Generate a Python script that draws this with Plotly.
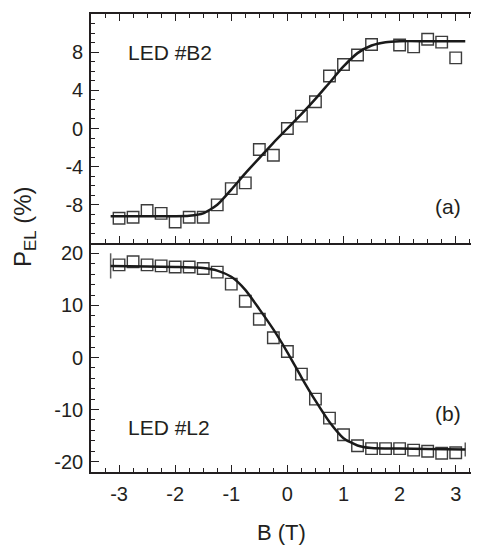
import plotly.graph_objects as go

# ---- data ----
top_B = [-3, -2.75, -2.5, -2.25, -2, -1.75, -1.5, -1.25, -1, -0.75, -0.5, -0.25,
         0, 0.25, 0.5, 0.75, 1, 1.25, 1.5, 2, 2.25, 2.5, 2.75, 3]
top_P = [-9.4, -9.3, -8.6, -8.9, -9.8, -9.3, -9.3, -8.0, -6.3, -5.7, -2.2, -2.8,
         0.0, 1.3, 2.8, 5.5, 6.7, 7.7, 8.8, 8.75, 8.55, 9.35, 9.05, 7.4]
top_fit_B = [-3.15, -2.5, -2.0, -1.75, -1.5, -1.25, -1.0, -0.75, -0.5, -0.25, 0,
             0.25, 0.5, 0.75, 1.0, 1.25, 1.5, 1.75, 2.0, 2.5, 3.17]
top_fit_P = [-9.2, -9.2, -9.2, -9.15, -8.9, -8.0, -6.4, -4.7, -3.1, -1.5, 0,
             1.5, 3.1, 4.8, 6.5, 7.9, 8.7, 9.05, 9.15, 9.15, 9.15]

bot_B = [-3, -2.75, -2.5, -2.25, -2, -1.75, -1.5, -1.25, -1, -0.75, -0.5, -0.25,
         0, 0.25, 0.5, 0.75, 1, 1.25, 1.5, 1.75, 2, 2.25, 2.5, 2.75, 3]
bot_P = [17.8, 18.4, 17.8, 17.6, 17.4, 17.4, 17.1, 16.4, 14.1, 10.8, 7.35, 3.8,
         1.15, -3.2, -8.0, -11.65, -14.85, -16.95, -17.5, -17.5, -17.5, -17.8,
         -18.0, -18.4, -18.3]
bot_fit_B = [-3.15, -2.5, -2.0, -1.5, -1.25, -1.0, -0.75, -0.5, -0.25, 0, 0.25,
             0.5, 0.75, 1.0, 1.25, 1.5, 2.0, 2.5, 3.17]
bot_fit_P = [17.6, 17.5, 17.4, 17.2, 16.7, 15.5, 13.0, 9.3, 5.4, 1.0, -3.8,
             -8.3, -12.4, -15.5, -16.9, -17.4, -17.5, -17.6, -17.7]

x_ticks = [-3, -2, -1, 0, 1, 2, 3]
x_labels = ["-3", "-2", "-1", "0", "1", "2", "3"]
top_ticks = [-8, -4, 0, 4, 8]
top_labels = ["-8", "-4", "0", "4", "8"]
bot_ticks = [-20, -10, 0, 10, 20]
bot_labels = ["-20", "-10", "0", "10", "20"]

INK = "#231f20"
FONT = "Liberation Sans, Arial, sans-serif"

fig = go.Figure()
mk = dict(symbol="square-open", size=11.5, color="#3c3c3c", line=dict(width=1.4))

fig.add_trace(go.Scatter(x=top_B, y=top_P, mode="markers", marker=mk,
                         xaxis="x2", yaxis="y2"))
fig.add_trace(go.Scatter(x=top_fit_B, y=top_fit_P, mode="lines",
                         line=dict(color="#1a1a1a", width=2.5, shape="spline", smoothing=0.6),
                         xaxis="x2", yaxis="y2"))
fig.add_trace(go.Scatter(x=bot_B, y=bot_P, mode="markers", marker=mk,
                         xaxis="x", yaxis="y"))
fig.add_trace(go.Scatter(x=bot_fit_B, y=bot_fit_P, mode="lines",
                         line=dict(color="#1a1a1a", width=2.5, shape="spline", smoothing=0.6),
                         xaxis="x", yaxis="y"))
# end caps of the lower fit line
fig.add_trace(go.Scatter(x=[bot_fit_B[0], bot_fit_B[-1]], y=[bot_fit_P[0], bot_fit_P[-1]],
                         mode="markers",
                         marker=dict(symbol="line-ns", size=[18, 10],
                                     line=dict(color="#1a1a1a", width=1.5)),
                         xaxis="x", yaxis="y"))

xr = [-3.5, 3.415]
common_x = dict(range=xr, showline=True, linecolor=INK, linewidth=1.6,
                ticks="inside", ticklen=7, tickwidth=1.2, tickcolor=INK,
                tickvals=x_ticks, ticktext=x_labels, showgrid=False, zeroline=False,
                automargin=False,
                minor=dict(dtick=0.25, tick0=0, ticks="inside", ticklen=4,
                           tickwidth=1.1, tickcolor=INK, showgrid=False))
common_y = dict(showline=True, linecolor=INK, linewidth=1.6,
                ticks="inside", ticklen=8, tickwidth=1.2, tickcolor=INK,
                showgrid=False, zeroline=False, automargin=False,
                tickfont=dict(family=FONT, size=20, color=INK),
                ticklabelstandoff=2)

# the page body adds an 8 px offset; margins below compensate for it
fig.update_layout(
    width=471, height=538,
    margin=dict(l=83, r=0, t=6, b=74),
    paper_bgcolor="white", plot_bgcolor="white",
    showlegend=False,
    xaxis=dict(**common_x, anchor="y", domain=[0, 1],
               tickfont=dict(family=FONT, size=20, color=INK),
               ticklabelstandoff=3),
    xaxis2=dict(**common_x, anchor="y2", matches="x", mirror="ticks",
                showticklabels=False),
    yaxis=dict(**common_y, domain=[0, 0.5], range=[-22, 22], tickvals=bot_ticks,
               ticktext=bot_labels, anchor="x",
               minor=dict(dtick=2, tick0=0, ticks="inside", ticklen=4,
                          tickwidth=1.1, tickcolor=INK, showgrid=False)),
    yaxis2=dict(**common_y, domain=[0.5, 1], range=[-12, 12], tickvals=top_ticks,
                ticktext=top_labels, anchor="x2",
                minor=dict(dtick=1, tick0=0, ticks="inside", ticklen=4,
                           tickwidth=1.1, tickcolor=INK, showgrid=False)),
    font=dict(family=FONT, color=INK),
)

ann_font = dict(family=FONT, size=21, color=INK)
fig.add_annotation(text="LED #B2", x=-2.87, y=8.0, xref="x2", yref="y2",
                   xanchor="left", yanchor="middle", showarrow=False, font=ann_font)
fig.add_annotation(text="(a)", x=3.13, y=-8.2, xref="x2", yref="y2",
                   xanchor="right", yanchor="middle", showarrow=False, font=ann_font)
fig.add_annotation(text="LED #L2", x=-2.87, y=-13.5, xref="x", yref="y",
                   xanchor="left", yanchor="middle", showarrow=False, font=ann_font)
fig.add_annotation(text="(b)", x=3.13, y=-10.7, xref="x", yref="y",
                   xanchor="right", yanchor="middle", showarrow=False, font=ann_font)
fig.add_annotation(text="B (T)", x=-0.1, y=-0.1325, xref="x", yref="paper",
                   xanchor="center", yanchor="middle", showarrow=False,
                   font=dict(family=FONT, size=22, color=INK))
fig.add_annotation(text="P<sub>EL</sub> (%)", x=-0.170, y=0.535, xref="paper", yref="paper",
                   xanchor="center", yanchor="middle", showarrow=False, textangle=-90,
                   font=dict(family=FONT, size=24, color=INK))

fig.write_html("out.html")
